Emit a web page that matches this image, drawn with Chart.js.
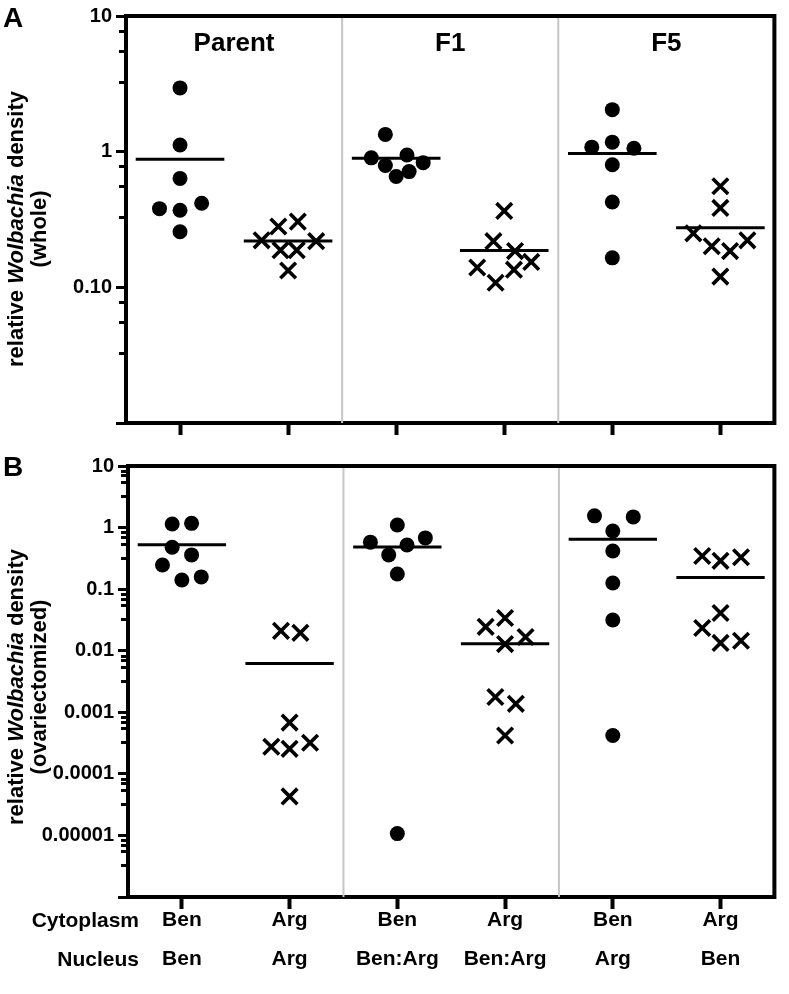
<!DOCTYPE html>
<html lang="en">
<head>
  <meta charset="UTF-8">
  <title>Wolbachia density</title>
  <style>
    body {
      margin: 0;
      background: #fff;
      font-family: "Liberation Sans", Arial, sans-serif;
    }

    .page {
      position: relative;
      width: 789px;
      height: 994px;
      overflow: hidden;
    }

    .panel {
      position: absolute;
      left: 0;
      width: 789px;
    }

    .letter {
      position: absolute;
      left: 3px;
      font-size: 28px;
      line-height: 28px;
      font-weight: bold;
    }

    .ytitle {
      position: absolute;
      width: 400px;
      height: 46px;
      left: -173px;
      font-size: 22px;
      line-height: 23px;
      font-weight: bold;
      text-align: center;
      transform: rotate(-90deg);
      white-space: nowrap;
    }
  </style>
</head>
<body>
  <div class="page">
    <div class="panel" style="top:0;height:450px"><canvas id="chart-whole"></canvas></div>
    <div class="panel" style="top:450px;height:544px"><canvas id="chart-ovary"></canvas></div>

    <div class="letter" style="top:4px">A</div>
    <div class="letter" style="top:453px">B</div>

    <div class="ytitle" style="top:206px">relative <i>Wolbachia</i> density<br>(whole)</div>
    <div class="ytitle" style="top:664px">relative <i>Wolbachia</i> density<br>(ovariectomized)</div>
  </div>

  <script src="https://cdn.jsdelivr.net/npm/chart.js"></script>
  <script>
    // Groups and x categories
    const groupLabels = ["Parent", "F1", "F5"];
    const cytoplasm = ["Ben", "Arg", "Ben", "Arg", "Ben", "Arg"];
    const nucleus = ["Ben", "Arg", "Ben:Arg", "Ben:Arg", "Arg", "Ben"];
    const rowHeaders = ["Cytoplasm", "Nucleus"];

    // Panel A - whole flies (one list per column)
    const wholeValues = [
      [2.95, 1.12, 0.635, 0.38, 0.37, 0.417, 0.257],
      [0.222, 0.281, 0.305, 0.188, 0.188, 0.219, 0.133],
      [1.34, 0.90, 0.79, 0.946, 0.83, 0.656, 0.713],
      [0.366, 0.219, 0.185, 0.14, 0.135, 0.154, 0.108],
      [2.04, 1.08, 1.175, 1.06, 0.80, 0.426, 0.165],
      [0.556, 0.385, 0.25, 0.201, 0.185, 0.222, 0.12]
    ];
    // horizontal scatter of each point, in category units
    const wholeOffsets = [
      [0, 0, 0, -0.19, 0, 0.2, 0],
      [-0.245, -0.09, 0.09, -0.07, 0.08, 0.26, 0],
      [-0.1, -0.23, -0.1, 0.1, 0.25, 0, 0.12],
      [0, -0.1, 0.1, -0.25, 0.09, 0.25, -0.08],
      [0, -0.19, 0, 0.2, 0, 0, 0],
      [0, 0, -0.25, -0.08, 0.09, 0.25, 0]
    ];
    const wholeMeans = [0.88, 0.22, 0.895, 0.187, 0.97, 0.275];
    const wholeTicks = [10, 1, 0.1, 0.01];
    const wholeTickLabels = ["10", "1", "0.10", ""];
    const wholeMinor = [7.75, 5.5, 3.25];

    // Panel B - ovariectomized flies
    const ovaryValues = [
      [1.14, 1.17, 0.48, 0.36, 0.247, 0.141, 0.158],
      [0.021, 0.0195, 0.00068, 0.000275, 0.000255, 0.00032, 0.000043],
      [0.58, 1.1, 0.36, 0.52, 0.68, 0.176, 0.0000107],
      [0.0244, 0.034, 0.0167, 0.0128, 0.00177, 0.00137, 0.00042],
      [1.55, 1.49, 0.88, 0.417, 0.126, 0.0316, 0.00042],
      [0.346, 0.288, 0.33, 0.041, 0.0234, 0.0134, 0.0145]
    ];
    const ovaryOffsets = [
      [-0.09, 0.09, -0.09, 0.09, -0.18, 0, 0.18],
      [-0.08, 0.1, 0, -0.17, 0, 0.19, 0],
      [-0.25, 0, -0.08, 0.09, 0.26, 0, 0],
      [-0.18, 0, 0.19, 0, -0.09, 0.1, 0],
      [-0.17, 0.19, 0, 0, 0, 0, 0],
      [-0.17, 0, 0.19, 0, -0.17, 0, 0.19]
    ];
    const ovaryMeans = [0.525, 0.0062, 0.485, 0.013, 0.645, 0.155];
    const ovaryTicks = [10, 1, 0.1, 0.01, 0.001, 0.0001, 0.00001, 0.000001];
    const ovaryTickLabels = ["10", "1", "0.1", "0.01", "0.001", "0.0001", "0.00001", ""];
    const ovaryMinor = [8.2, 6.9, 5.4, 3.2];

    Chart.defaults.font.family = '"Liberation Sans", Arial, sans-serif';
    Chart.defaults.font.weight = "bold";
    Chart.defaults.color = "#000";

    const FONT = '"Liberation Sans", Arial, sans-serif';

    // minor tick values inside each decade
    function minorTicks(majors, minor) {
      const out = [];
      majors.slice(0, -1).forEach((d) => {
        minor.forEach((m) => out.push({ value: (d / 10) * m }));
      });
      return out;
    }

    function labelFor(value, majors, labels) {
      for (let i = 0; i < majors.length; i++) {
        if (Math.abs(Math.log10(value) - Math.log10(majors[i])) < 1e-6) return labels[i];
      }
      return "";
    }

    // light grey lines between the three groups + frame on top / right
    const framePlugin = {
      id: "frame",
      beforeDatasetsDraw(chart) {
        const { ctx, chartArea } = chart;
        const x = chart.scales.x;
        ctx.save();
        ctx.strokeStyle = "#c6c6c6";
        ctx.lineWidth = 2;
        [1.5, 3.5].forEach((v) => {
          const px = x.getPixelForValue(v);
          ctx.beginPath();
          ctx.moveTo(px, chartArea.top);
          ctx.lineTo(px, chartArea.bottom);
          ctx.stroke();
        });
        ctx.restore();
      },
      afterDraw(chart) {
        const { ctx, chartArea } = chart;
        ctx.save();
        ctx.strokeStyle = "#000";
        ctx.lineWidth = 4;
        ctx.beginPath();
        ctx.moveTo(chartArea.left - 2, chartArea.top);
        ctx.lineTo(chartArea.right, chartArea.top);
        ctx.lineTo(chartArea.right, chartArea.bottom + 2);
        ctx.stroke();
        ctx.restore();
      }
    };

    const groupTitlePlugin = {
      id: "groupTitles",
      afterDatasetsDraw(chart) {
        const { ctx, chartArea } = chart;
        const x = chart.scales.x;
        ctx.save();
        ctx.font = "bold 26px " + FONT;
        ctx.fillStyle = "#000";
        ctx.textAlign = "center";
        ctx.textBaseline = "alphabetic";
        groupLabels.forEach((g, i) => {
          ctx.fillText(g, x.getPixelForValue(i * 2 + 0.5), chartArea.top + 35);
        });
        ctx.restore();
      }
    };

    const rowHeaderPlugin = {
      id: "rowHeaders",
      afterDraw(chart) {
        const { ctx, chartArea } = chart;
        ctx.save();
        ctx.font = "bold 21px " + FONT;
        ctx.fillStyle = "#000";
        ctx.textAlign = "right";
        ctx.textBaseline = "middle";
        rowHeaders.forEach((t, i) => {
          ctx.fillText(t, 139, chartArea.bottom + 24 + i * 39);
        });
        ctx.restore();
      }
    };

    function buildDatasets(values, offsets, means) {
      const sets = [];
      means.forEach((m, i) => {
        sets.push({
          type: "line",
          yAxisID: "y",
          data: [{ x: i - 0.41, y: m }, { x: i + 0.41, y: m }],
          borderColor: "#000",
          borderWidth: 3,
          pointRadius: 0,
          fill: false
        });
      });
      values.forEach((col, i) => {
        const circle = i % 2 === 0;
        sets.push({
          type: "scatter",
          yAxisID: "y",
          data: col.map((v, j) => ({ x: i + offsets[i][j], y: v })),
          pointStyle: circle ? "circle" : "crossRot",
          pointRadius: circle ? 7.5 : 11,
          pointHoverRadius: circle ? 7.5 : 11,
          backgroundColor: "#000",
          borderColor: "#000",
          borderWidth: circle ? 0 : 3.6
        });
      });
      return sets;
    }

    function makeChart(id, cfg) {
      const min = cfg.majors[cfg.majors.length - 1];
      const max = cfg.majors[0];
      const ctx = document.getElementById(id).getContext("2d");
      return new Chart(ctx, {
        data: { datasets: buildDatasets(cfg.values, cfg.offsets, cfg.means) },
        options: {
          responsive: true,
          maintainAspectRatio: false,
          animation: false,
          layout: { padding: { top: cfg.padTop, right: cfg.padRight, left: 0, bottom: 0 } },
          plugins: { legend: { display: false }, tooltip: { enabled: false } },
          scales: {
            x: {
              type: "linear",
              min: -0.5,
              max: 5.5,
              afterBuildTicks: (scale) => {
                scale.ticks = [0, 1, 2, 3, 4, 5].map((v) => ({ value: v }));
              },
              afterFit: (scale) => { scale.height = cfg.xHeight; },
              grid: {
                drawOnChartArea: false,
                drawTicks: true,
                tickLength: 12,
                tickWidth: 4,
                tickColor: "#000"
              },
              border: { display: true, color: "#000", width: 4 },
              ticks: {
                display: cfg.showCategories,
                autoSkip: false,
                maxRotation: 0,
                padding: -8,
                font: { size: 21, weight: "bold", lineHeight: 1.86 },
                callback: (v) => [cytoplasm[v], nucleus[v]]
              }
            },
            y: {
              type: "logarithmic",
              position: "left",
              weight: 1,
              min: min,
              max: max,
              afterBuildTicks: (scale) => {
                scale.ticks = cfg.majors.map((v) => ({ value: v }));
              },
              afterFit: (scale) => { scale.width = cfg.yWidth; },
              grid: {
                drawOnChartArea: false,
                drawTicks: true,
                tickLength: 10,
                tickWidth: 3,
                tickColor: "#000"
              },
              border: { display: true, color: "#000", width: 4 },
              ticks: {
                autoSkip: false,
                padding: 4,
                font: { size: 20, weight: "bold" },
                callback: (v) => labelFor(v, cfg.majors, cfg.labels)
              }
            },
            yMinor: {
              type: "logarithmic",
              position: "left",
              weight: 0,
              min: min,
              max: max,
              afterBuildTicks: (scale) => {
                scale.ticks = minorTicks(cfg.majors, cfg.minor);
              },
              afterFit: (scale) => { scale.width = 0; },
              grid: {
                drawOnChartArea: false,
                drawTicks: true,
                tickLength: 7,
                tickWidth: 3,
                tickColor: "#000"
              },
              border: { display: false },
              ticks: { display: false, autoSkip: false }
            }
          }
        },
        plugins: cfg.plugins
      });
    }

    makeChart("chart-whole", {
      values: wholeValues,
      offsets: wholeOffsets,
      means: wholeMeans,
      majors: wholeTicks,
      labels: wholeTickLabels,
      minor: wholeMinor,
      padTop: 10,
      padRight: 9,
      yWidth: 126,
      xHeight: 27,
      showCategories: false,
      plugins: [framePlugin, groupTitlePlugin]
    });

    makeChart("chart-ovary", {
      values: ovaryValues,
      offsets: ovaryOffsets,
      means: ovaryMeans,
      majors: ovaryTicks,
      labels: ovaryTickLabels,
      minor: ovaryMinor,
      padTop: 16,
      padRight: 7,
      yWidth: 128,
      xHeight: 97,
      showCategories: true,
      plugins: [framePlugin, rowHeaderPlugin]
    });
  </script>
</body>
</html>
